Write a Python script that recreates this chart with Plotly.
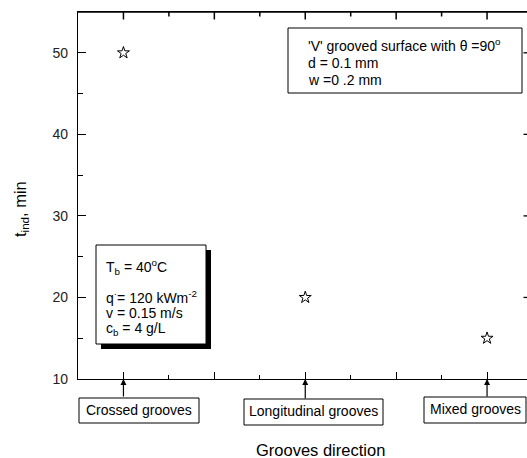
import plotly.graph_objects as go

# ---- data ----
categories = ["Crossed grooves", "Longitudinal grooves", "Mixed grooves"]
x_pos = [1, 3, 5]
t_ind = [50, 20, 15]
y_major = [10, 20, 30, 40, 50]
y_labels = ["10", "20", "30", "40", "50"]
x_major = [1, 2, 3, 4, 5]
x_minor = [1.5, 2.5, 3.5, 4.5]

W, H = 527, 458
L, T, B = 78, 12, 379
R = 527
FONT = "Arial, Liberation Sans, sans-serif"
X_RANGE = [0.5, 0.5 + (R - L) / 90.9]


def px(xp):
    return (xp - L) / (R - L)


def py(yp):
    return (B - yp) / (B - T)


def xdata_to_paper(v):
    return (v - X_RANGE[0]) / (X_RANGE[1] - X_RANGE[0])


fig = go.Figure()
fig.add_trace(go.Scatter(
    x=x_pos, y=t_ind, mode="markers",
    marker=dict(symbol="star-open", size=9, color="black", line=dict(width=1, color="black")),
    showlegend=False, cliponaxis=False, hoverinfo="skip",
))

shapes = []
annotations = []

# top axis line and inward ticks
shapes.append(dict(type="line", xref="paper", yref="paper", x0=0, x1=1, y0=1, y1=1,
                   line=dict(color="black", width=1.5), layer="above"))
for v in x_major:
    xp = xdata_to_paper(v)
    shapes.append(dict(type="line", xref="paper", yref="paper", x0=xp, x1=xp, y0=1.0, y1=py(T + 7.5),
                       line=dict(color="black", width=1.5), layer="above"))
for v in x_minor:
    xp = xdata_to_paper(v)
    shapes.append(dict(type="line", xref="paper", yref="paper", x0=xp, x1=xp, y0=1.0, y1=py(T + 4.5),
                       line=dict(color="black", width=1.5), layer="above"))

# right-side tick stubs (axis itself lies just beyond the picture)
for v in y_major[1:]:
    shapes.append(dict(type="line", xref="paper", yref="y", x0=px(523.5), x1=1.0, y0=v, y1=v,
                       line=dict(color="black", width=1.3)))

# top-right info box
shapes.append(dict(type="rect", xref="paper", yref="paper", x0=px(288), x1=px(522), y0=py(28), y1=py(93),
                   line=dict(color="black", width=1), fillcolor="white", layer="above"))
for txt, yc in [("'V' grooved surface with θ =90<sup>o</sup>", 45),
                ("d = 0.1 mm", 63), ("w =0 .2 mm", 80)]:
    annotations.append(dict(text=txt, xref="paper", yref="paper", x=px(306), y=py(yc),
                            xanchor="left", yanchor="middle", showarrow=False,
                            font=dict(family=FONT, size=14, color="black")))

# left condition box with shadow
shapes.append(dict(type="rect", xref="paper", yref="paper", x0=px(101), x1=px(211), y0=py(250), y1=py(349),
                   line=dict(color="black", width=0), fillcolor="black", layer="above"))
shapes.append(dict(type="rect", xref="paper", yref="paper", x0=px(96), x1=px(206), y0=py(245), y1=py(344),
                   line=dict(color="black", width=1), fillcolor="white", layer="above"))
for txt, yc in [("T<sub>b</sub> = 40<sup>o</sup>C", 267),
                ("q<sup>·</sup>= 120 kWm<sup>-2</sup>", 297),
                ("v = 0.15 m/s", 313), ("c<sub>b</sub> = 4 g/L", 329)]:
    annotations.append(dict(text=txt, xref="paper", yref="paper", x=px(104), y=py(yc),
                            xanchor="left", yanchor="middle", showarrow=False,
                            font=dict(family=FONT, size=14, color="black")))

# category boxes below the axis with arrows
boxes = [(79, 199, 398, 423, 18), (244, 383, 399, 425, 20), (424, 526, 397, 423, 18)]
for cat, xv, (bx0, bx1, by0, by1, ay) in zip(categories, x_pos, boxes):
    shapes.append(dict(type="rect", xref="paper", yref="paper", x0=px(bx0), x1=px(bx1), y0=py(by0), y1=py(by1),
                       line=dict(color="black", width=1), fillcolor="white", layer="above"))
    annotations.append(dict(text=cat, xref="paper", yref="paper", x=px((bx0 + bx1) / 2), y=py((by0 + by1) / 2 - 1),
                            xanchor="center", yanchor="middle", showarrow=False,
                            font=dict(family=FONT, size=14, color="black")))
    annotations.append(dict(text="", x=xv, y=10, xref="x", yref="y", ax=0, ay=ay + 1,
                            showarrow=True, arrowhead=2, arrowsize=1, arrowwidth=1.2,
                            arrowcolor="black"))

# axis titles
annotations.append(dict(text="Grooves direction", xref="paper", yref="paper", x=px(320), y=py(450),
                        xanchor="center", yanchor="middle", showarrow=False,
                        font=dict(family=FONT, size=16.5, color="black")))
annotations.append(dict(text="t<sub>ind</sub>, min", xref="paper", yref="paper", x=px(21), y=py(209),
                        xanchor="center", yanchor="middle", showarrow=False, textangle=-90,
                        font=dict(family=FONT, size=16.5, color="black")))

fig.update_layout(
    width=W, height=H,
    margin=dict(l=L, r=W - R, t=T, b=H - B, pad=0),
    plot_bgcolor="white", paper_bgcolor="white",
    shapes=shapes, annotations=annotations,
    font=dict(family=FONT, size=14, color="black"),
    hovermode=False,
)
fig.update_xaxes(
    range=X_RANGE, showgrid=False, zeroline=False,
    showline=True, linecolor="black", linewidth=1.3, mirror=True, fixedrange=True,
    ticks="inside", ticklen=7, tickwidth=1.3, tickcolor="black",
    tickvals=x_major, showticklabels=False,
    minor=dict(ticks="inside", ticklen=4, tickwidth=1.3, tickcolor="black", tickvals=x_minor),
)
fig.update_yaxes(
    range=[10, 10 + (B - T) / 8.155], showgrid=False, zeroline=False,
    showline=True, linecolor="black", linewidth=1.3, fixedrange=True,
    ticks="inside", ticklen=8, tickwidth=1.3, tickcolor="black",
    tickvals=y_major, ticktext=y_labels, ticklabelstandoff=6,
    tickfont=dict(family=FONT, size=14, color="#222"),
    minor=dict(ticks="inside", ticklen=5, tickwidth=1.3, tickcolor="black", dtick=5, tick0=0),
)

fig.write_html(
    "out.html",
    config={"displayModeBar": False},
    post_script="document.body.style.margin='0';document.body.style.overflow='hidden';",
)
